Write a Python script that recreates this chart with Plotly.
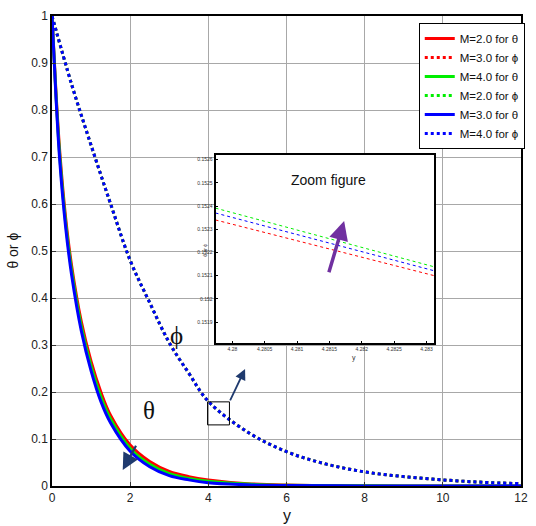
import plotly.graph_objects as go

# ---- main panel data -------------------------------------------------
eta_theta = [0, 0.1, 0.2, 0.35, 0.5, 0.75, 1.0, 1.25, 1.5, 2.0, 2.5, 3.0, 3.5, 4.0, 5.0, 6.0, 8.0, 10.0, 12.0]
theta_M2 = [1.0, 0.84, 0.71, 0.57, 0.47, 0.35, 0.265, 0.20, 0.15, 0.087, 0.052, 0.031, 0.020, 0.013, 0.005, 0.002, 0.0004, 0.0001, 0.0]
theta_M4 = [1.0, 0.835, 0.70, 0.56, 0.46, 0.34, 0.255, 0.19, 0.142, 0.080, 0.046, 0.026, 0.016, 0.010, 0.004, 0.0015, 0.0003, 0.0001, 0.0]
theta_M3 = [1.0, 0.83, 0.69, 0.55, 0.45, 0.33, 0.245, 0.18, 0.134, 0.074, 0.041, 0.022, 0.013, 0.007, 0.0025, 0.001, 0.0002, 0.0, 0.0]

eta_phi = [0, 0.5, 1.0, 1.5, 2.0, 2.5, 3.0, 3.5, 4.0, 5.0, 6.0, 7.0, 8.0, 9.0, 10.0, 11.0, 12.0]
phi_M3 = [1.0, 0.855, 0.725, 0.60, 0.48, 0.39, 0.305, 0.24, 0.18, 0.115, 0.073, 0.047, 0.030, 0.020, 0.013, 0.008, 0.005]
phi_M2 = [1.0, 0.855, 0.725, 0.60, 0.48, 0.39, 0.305, 0.24, 0.18, 0.115, 0.073, 0.047, 0.030, 0.020, 0.013, 0.008, 0.005]
phi_M4 = [1.0, 0.855, 0.725, 0.60, 0.48, 0.39, 0.305, 0.24, 0.18, 0.115, 0.073, 0.047, 0.030, 0.020, 0.013, 0.008, 0.005]

# ---- zoomed panel data -----------------------------------------------
eta_zoom = [4.27974, 4.28312]
zoom_phi_M3 = [0.15234, 0.15210]
zoom_phi_M2 = [0.152391, 0.152138]
zoom_phi_M4 = [0.15237, 0.152121]

x_ticks = [0, 2, 4, 6, 8, 10, 12]
y_ticks = [0, 0.1, 0.2, 0.3, 0.4, 0.5, 0.6, 0.7, 0.8, 0.9, 1]
zoom_x_ticks = [4.28, 4.2805, 4.281, 4.2815, 4.282, 4.2825, 4.283]
zoom_x_labels = ["4.28", "4.2805", "4.281", "4.2815", "4.282", "4.2825", "4.283"]
zoom_y_ticks = [0.1519, 0.152, 0.1521, 0.1522, 0.1523, 0.1524, 0.1525, 0.1526]
zoom_y_labels = ["0.1519", "0.152", "0.1521", "0.1522", "0.1523", "0.1524", "0.1525", "0.1526"]

RED, GREEN, BLUE = "#ff0000", "#00ee00", "#0000ff"
FONT = "Liberation Sans, Arial, sans-serif"
SERIF = "Liberation Serif, Times New Roman, serif"

fig = go.Figure()

# legend-order traces (main panel); draw order keeps red on top of green/blue
main_traces = [
    ("M=2.0 for θ", eta_theta, theta_M2, RED, "solid"),
    ("M=3.0 for ϕ", eta_phi, phi_M3, RED, "dot"),
    ("M=4.0 for θ", eta_theta, theta_M4, GREEN, "solid"),
    ("M=2.0 for ϕ", eta_phi, phi_M2, GREEN, "dot"),
    ("M=3.0 for θ", eta_theta, theta_M3, BLUE, "solid"),
    ("M=4.0 for ϕ", eta_phi, phi_M4, BLUE, "dot"),
]
for i, (name, xs, ys, col, dash) in enumerate(main_traces):
    fig.add_trace(go.Scatter(
        x=xs, y=ys, name=name, mode="lines", line_shape="spline",
        line=dict(color=col, width=3, dash=dash),
        legendrank=i + 1, xaxis="x", yaxis="y",
    ))

# zoomed panel
for ys, col in [(zoom_phi_M3, RED), (zoom_phi_M4, BLUE), (zoom_phi_M2, GREEN)]:
    fig.add_trace(go.Scatter(
        x=eta_zoom, y=ys, mode="lines", showlegend=False,
        line=dict(color=col, width=1, dash="dot"),
        xaxis="x2", yaxis="y2",
    ))

fig.update_layout(
    width=536, height=526,
    margin=dict(l=52, r=8, t=16, b=40),
    paper_bgcolor="white", plot_bgcolor="white",
    font=dict(family=FONT, size=12, color="#222"),
    showlegend=True,
    legend=dict(
        x=0.782, y=0.985, xanchor="left", yanchor="top",
        bgcolor="white", bordercolor="black", borderwidth=1,
        font=dict(family=FONT, size=11.5, color="#111"),
        itemwidth=30, tracegroupgap=0,
    ),
    xaxis=dict(
        range=[0, 12], tickvals=x_ticks, showgrid=True, gridcolor="#a8a8a8", gridwidth=1,
        zeroline=False, showline=True, linecolor="black", linewidth=1.5, mirror=True,
        ticks="inside", ticklen=4, tickcolor="#333",
        tickfont=dict(family=FONT, size=12, color="#222"),
        domain=[0, 1],
    ),
    yaxis=dict(
        range=[0, 1], tickvals=y_ticks, showgrid=True, gridcolor="#a8a8a8", gridwidth=1,
        zeroline=False, showline=True, linecolor="black", linewidth=1.5, mirror=True,
        ticks="inside", ticklen=4, tickcolor="#333",
        tickfont=dict(family=FONT, size=12, color="#222"),
        domain=[0, 1],
    ),
    xaxis2=dict(
        anchor="y2", domain=[0.3487, 0.8151], range=[4.27974, 4.28312],
        tickvals=zoom_x_ticks, ticktext=zoom_x_labels, showgrid=False, zeroline=False,
        showline=True, linecolor="black", linewidth=2, mirror=True,
        ticks="inside", ticklen=2, tickcolor="black",
        tickfont=dict(family=FONT, size=5, color="#333"),
    ),
    yaxis2=dict(
        anchor="x2", domain=[0.3043, 0.7043], range=[0.15181, 0.15262],
        tickvals=zoom_y_ticks, ticktext=zoom_y_labels, showgrid=False, zeroline=False,
        showline=True, linecolor="black", linewidth=2, mirror=True,
        ticks="inside", ticklen=2, tickcolor="black",
        tickfont=dict(family=FONT, size=5, color="#333"),
    ),
)

annotations = [
    # axis titles
    dict(text="y", xref="paper", yref="paper", x=0.5, y=-0.062, showarrow=False,
         font=dict(family=FONT, size=16, color="#111"), xanchor="center", yanchor="middle"),
    dict(text="θ or ϕ", xref="paper", yref="paper", x=-0.084, y=0.50, showarrow=False,
         textangle=-90, font=dict(family=FONT, size=14, color="#111"),
         xanchor="center", yanchor="middle"),
    # curve family labels
    dict(text="θ", x=2.47, y=0.16, xref="x", yref="y", showarrow=False,
         font=dict(family=SERIF, size=25, color="#111")),
    dict(text="ϕ", x=3.18, y=0.32, xref="x", yref="y", showarrow=False,
         font=dict(family=SERIF, size=25, color="#111")),
    # arrow across the θ curves
    dict(x=1.81, y=0.034, ax=2.17, ay=0.089, xref="x", yref="y", axref="x", ayref="y",
         showarrow=True, arrowhead=2, arrowsize=1.5, arrowwidth=2.2, arrowcolor="#1f3a6e", text=""),
    # arrow from the magnified region
    dict(x=4.94, y=0.249, ax=4.54, ay=0.179, xref="x", yref="y", axref="x", ayref="y",
         showarrow=True, arrowhead=2, arrowsize=1.2, arrowwidth=1.8, arrowcolor="#1f3a6e", text=""),
    # zoom panel texts
    dict(text="Zoom figure", xref="paper", yref="paper", x=0.590, y=0.651, showarrow=False,
         font=dict(family=FONT, size=14, color="#111")),
    dict(text="y", xref="paper", yref="paper", x=(358 - 52) / 476, y=(486 - 358) / 470,
         showarrow=False, font=dict(family=FONT, size=7, color="#333"),
         xanchor="center", yanchor="middle"),
    dict(text="θ or ϕ", xref="paper", yref="paper", x=(207 - 52) / 476, y=(486 - 250) / 470,
         showarrow=False, textangle=-90, font=dict(family=FONT, size=5, color="#333"),
         xanchor="center", yanchor="middle"),
    # trend arrow inside zoom panel
    dict(x=4.281727, y=0.152336, ax=4.281485, ay=0.152108, xref="x2", yref="y2",
         axref="x2", ayref="y2", showarrow=True, arrowhead=2, arrowsize=1.1, arrowwidth=3.5,
         arrowcolor="#7030a0", text=""),
]
fig.update_layout(annotations=annotations)

# box marking the magnified region
fig.add_shape(type="rect", xref="x", yref="y", x0=3.98, x1=4.54, y0=0.130, y1=0.179,
              line=dict(color="black", width=1))

fig.write_html("out.html")
